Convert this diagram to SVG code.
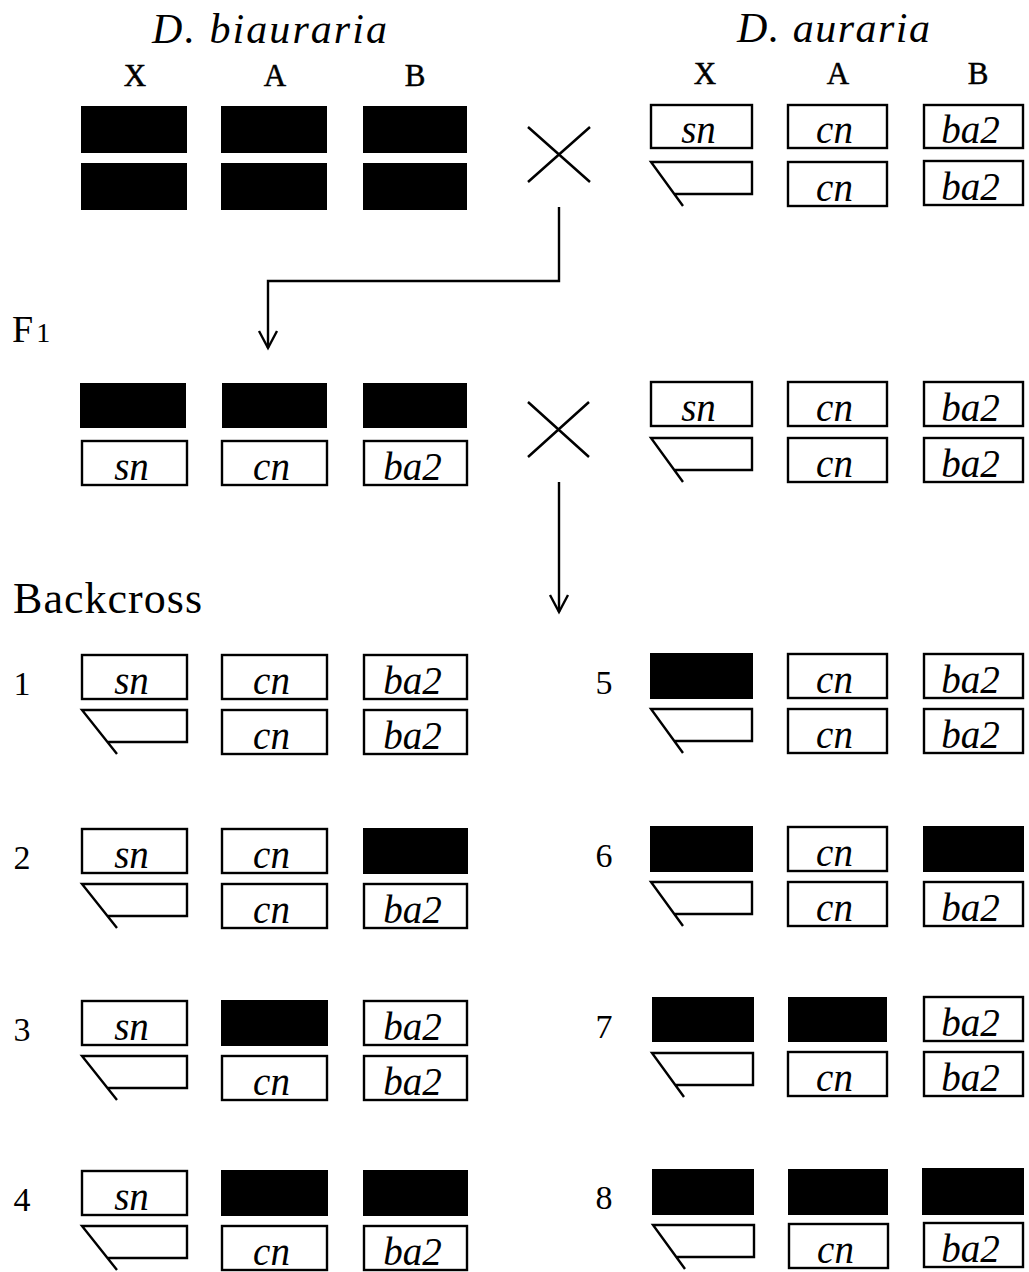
<svg xmlns="http://www.w3.org/2000/svg" xmlns:xlink="http://www.w3.org/1999/xlink" width="1029" height="1272" viewBox="0 0 1029 1272">
<style>
.bg{fill:#fff}
.blk{fill:#000}
.box{fill:#fff;stroke:#000;stroke-width:2.4}
.ych{fill:none;stroke:#000;stroke-width:2.4}
.gene{font-family:"Liberation Serif",serif;font-style:italic;font-size:39px;text-anchor:middle;fill:#000}
.title{font-family:"Liberation Serif",serif;font-style:italic;font-size:42px;fill:#000}
.col{font-family:"Liberation Serif",serif;font-size:31px;text-anchor:middle;fill:#000;stroke:#000;stroke-width:0.5}
.num{font-family:"Liberation Serif",serif;font-size:34px;text-anchor:middle;fill:#000}
.lbl{font-family:"Liberation Serif",serif;font-size:44px;fill:#000}
.line{fill:none;stroke:#000;stroke-width:2.4}
.cross{fill:none;stroke:#000;stroke-width:2.5}
</style>
<defs>
<path id="yL" d="M35,44 L0,0 H105 V32 H25.5"/>
<path id="yR" d="M32,44 L0,0 H101 V32 H23.3"/>
<marker id="arr" markerUnits="userSpaceOnUse" markerWidth="24" markerHeight="24" viewBox="-20 -12 24 24" refX="0" refY="0" orient="auto">
<path d="M-17,-9 L0,0 L-17,9" fill="none" stroke="#000" stroke-width="2.4"/>
</marker>
</defs>
<rect class="bg" x="0" y="0" width="1029" height="1272"/>

<g id="connectors">
<path class="line" d="M559,207 V281 H268 V348" marker-end="url(#arr)"/>
<path class="line" d="M559,482 V612" marker-end="url(#arr)"/>
</g>

<g id="title-biauraria"><text class="title" x="152" y="43" textLength="235" lengthAdjust="spacing">D. biauraria</text></g>
<g id="title-auraria"><text class="title" x="737" y="42" textLength="193" lengthAdjust="spacing">D. auraria</text></g>
<g id="col-labels-left"><text class="col" x="135" y="86">X</text><text class="col" x="275" y="86">A</text><text class="col" x="415" y="86">B</text></g>
<g id="col-labels-right"><text class="col" x="705" y="84">X</text><text class="col" x="838" y="84">A</text><text class="col" x="978" y="84">B</text></g>

<g id="parent-biauraria">
<rect class="blk" x="81" y="106" width="106" height="47"/><rect class="blk" x="81" y="163" width="106" height="47"/>
<rect class="blk" x="221" y="106" width="106" height="47"/><rect class="blk" x="221" y="163" width="106" height="47"/>
<rect class="blk" x="363" y="106" width="104" height="47"/><rect class="blk" x="363" y="163" width="104" height="47"/>
</g>
<g id="cross-1"><path class="cross" d="M528,127 L590,182 M590,127 L528,182"/></g>
<g id="parent-auraria">
<rect class="box" x="651" y="105" width="101" height="43"/><text class="gene" x="698.5" y="143">sn</text>
<use href="#yR" xlink:href="#yR" class="ych" x="651" y="162"/>
<rect class="box" x="788" y="105" width="99" height="43"/><text class="gene" x="834.5" y="143">cn</text>
<rect class="box" x="788" y="162" width="99" height="44"/><text class="gene" x="834.5" y="201">cn</text>
<rect class="box" x="924" y="105" width="99" height="43"/><text class="gene" x="970.5" y="143">ba2</text>
<rect class="box" x="924" y="161" width="99" height="44"/><text class="gene" x="970.5" y="200">ba2</text>
</g>

<g id="label-F1"><text class="lbl" x="12" y="342" style="font-size:38px">F<tspan dx="3" style="font-size:28px">1</tspan></text></g>
<g id="f1-hybrid">
<rect class="blk" x="80" y="383" width="106" height="45"/>
<rect class="blk" x="222" y="383" width="105" height="45"/>
<rect class="blk" x="363" y="383" width="104" height="45"/>
<rect class="box" x="82" y="441" width="105" height="44"/><text class="gene" x="131.5" y="480">sn</text>
<rect class="box" x="222" y="441" width="105" height="44"/><text class="gene" x="271.5" y="480">cn</text>
<rect class="box" x="364" y="441" width="103" height="44"/><text class="gene" x="412.5" y="480">ba2</text>
</g>
<g id="cross-2"><path class="cross" d="M528,402 L589,457 M589,402 L528,457"/></g>
<g id="f1-auraria">
<rect class="box" x="651" y="382" width="101" height="44"/><text class="gene" x="698.5" y="421">sn</text>
<use href="#yR" xlink:href="#yR" class="ych" x="651" y="438"/>
<rect class="box" x="788" y="382" width="99" height="44"/><text class="gene" x="834.5" y="421">cn</text>
<rect class="box" x="788" y="438" width="99" height="44"/><text class="gene" x="834.5" y="477">cn</text>
<rect class="box" x="924" y="382" width="99" height="44"/><text class="gene" x="970.5" y="421">ba2</text>
<rect class="box" x="924" y="438" width="99" height="44"/><text class="gene" x="970.5" y="477">ba2</text>
</g>

<g id="label-backcross"><text class="lbl" x="13" y="613" textLength="189" lengthAdjust="spacing">Backcross</text></g>

<g id="bc-1">
<text class="num" x="22" y="695">1</text>
<rect class="box" x="82" y="655" width="105" height="44"/><text class="gene" x="131.5" y="694">sn</text>
<use href="#yL" xlink:href="#yL" class="ych" x="82" y="710"/>
<rect class="box" x="222" y="655" width="105" height="44"/><text class="gene" x="271.5" y="694">cn</text>
<rect class="box" x="222" y="710" width="105" height="44"/><text class="gene" x="271.5" y="749">cn</text>
<rect class="box" x="364" y="655" width="103" height="44"/><text class="gene" x="412.5" y="694">ba2</text>
<rect class="box" x="364" y="710" width="103" height="44"/><text class="gene" x="412.5" y="749">ba2</text>
</g>
<g id="bc-2">
<text class="num" x="22" y="869">2</text>
<rect class="box" x="82" y="829" width="105" height="44"/><text class="gene" x="131.5" y="868">sn</text>
<use href="#yL" xlink:href="#yL" class="ych" x="82" y="884"/>
<rect class="box" x="222" y="829" width="105" height="44"/><text class="gene" x="271.5" y="868">cn</text>
<rect class="box" x="222" y="884" width="105" height="44"/><text class="gene" x="271.5" y="923">cn</text>
<rect class="blk" x="363" y="828" width="105" height="46"/>
<rect class="box" x="364" y="884" width="103" height="44"/><text class="gene" x="412.5" y="923">ba2</text>
</g>
<g id="bc-3">
<text class="num" x="22" y="1041">3</text>
<rect class="box" x="82" y="1001" width="105" height="44"/><text class="gene" x="131.5" y="1040">sn</text>
<use href="#yL" xlink:href="#yL" class="ych" x="82" y="1056"/>
<rect class="blk" x="221" y="1000" width="107" height="46"/>
<rect class="box" x="222" y="1056" width="105" height="44"/><text class="gene" x="271.5" y="1095">cn</text>
<rect class="box" x="364" y="1001" width="103" height="44"/><text class="gene" x="412.5" y="1040">ba2</text>
<rect class="box" x="364" y="1056" width="103" height="44"/><text class="gene" x="412.5" y="1095">ba2</text>
</g>
<g id="bc-4">
<text class="num" x="22" y="1211">4</text>
<rect class="box" x="82" y="1171" width="105" height="44"/><text class="gene" x="131.5" y="1210">sn</text>
<use href="#yL" xlink:href="#yL" class="ych" x="82" y="1226"/>
<rect class="blk" x="221" y="1170" width="107" height="46"/>
<rect class="box" x="222" y="1226" width="105" height="44"/><text class="gene" x="271.5" y="1265">cn</text>
<rect class="blk" x="363" y="1170" width="105" height="46"/>
<rect class="box" x="364" y="1226" width="103" height="44"/><text class="gene" x="412.5" y="1265">ba2</text>
</g>

<g id="bc-5">
<text class="num" x="604" y="694">5</text>
<rect class="blk" x="650" y="653" width="103" height="46"/>
<use href="#yR" xlink:href="#yR" class="ych" x="651" y="709"/>
<rect class="box" x="788" y="654" width="99" height="44"/><text class="gene" x="834.5" y="693">cn</text>
<rect class="box" x="788" y="709" width="99" height="44"/><text class="gene" x="834.5" y="748">cn</text>
<rect class="box" x="924" y="654" width="99" height="44"/><text class="gene" x="970.5" y="693">ba2</text>
<rect class="box" x="924" y="709" width="99" height="44"/><text class="gene" x="970.5" y="748">ba2</text>
</g>
<g id="bc-6">
<text class="num" x="604" y="867">6</text>
<rect class="blk" x="650" y="826" width="103" height="46"/>
<use href="#yR" xlink:href="#yR" class="ych" x="651" y="882"/>
<rect class="box" x="788" y="827" width="99" height="44"/><text class="gene" x="834.5" y="866">cn</text>
<rect class="box" x="788" y="882" width="99" height="44"/><text class="gene" x="834.5" y="921">cn</text>
<rect class="blk" x="923" y="826" width="101" height="46"/>
<rect class="box" x="924" y="882" width="99" height="44"/><text class="gene" x="970.5" y="921">ba2</text>
</g>
<g id="bc-7">
<text class="num" x="604" y="1038">7</text>
<rect class="blk" x="652" y="997" width="102" height="45"/>
<use href="#yR" xlink:href="#yR" class="ych" x="652" y="1053"/>
<rect class="blk" x="788" y="997" width="99" height="45"/>
<rect class="box" x="788" y="1052" width="99" height="44"/><text class="gene" x="834.5" y="1091">cn</text>
<rect class="box" x="924" y="997" width="99" height="44"/><text class="gene" x="970.5" y="1036">ba2</text>
<rect class="box" x="924" y="1052" width="99" height="44"/><text class="gene" x="970.5" y="1091">ba2</text>
</g>
<g id="bc-8">
<text class="num" x="604" y="1209">8</text>
<rect class="blk" x="652" y="1169" width="102" height="46"/>
<use href="#yR" xlink:href="#yR" class="ych" x="653" y="1225"/>
<rect class="blk" x="788" y="1169" width="100" height="46"/>
<rect class="box" x="789" y="1224" width="99" height="44"/><text class="gene" x="835.5" y="1263">cn</text>
<rect class="blk" x="922" y="1168" width="102" height="47"/>
<rect class="box" x="924" y="1223" width="99" height="44"/><text class="gene" x="970.5" y="1262">ba2</text>
</g>
</svg>
